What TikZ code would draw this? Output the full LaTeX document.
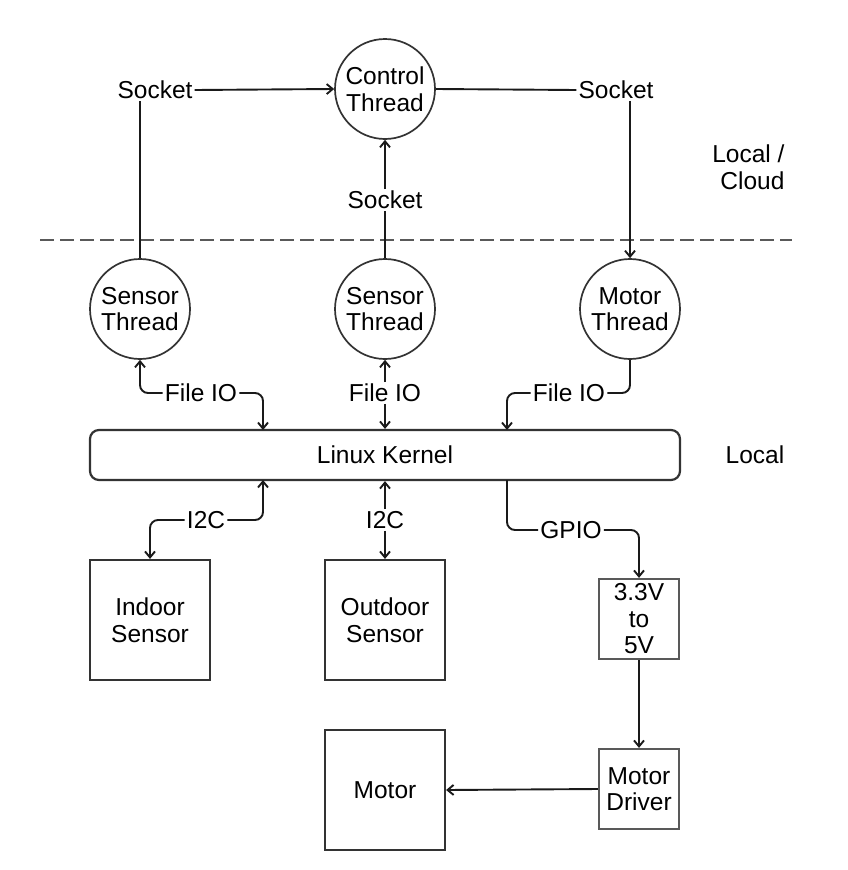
\documentclass[tikz,border=0pt]{standalone}
\usepackage{fontspec}
\setmainfont{Liberation Sans}
\usetikzlibrary{arrows.meta}
\definecolor{ink}{HTML}{1A1A1A}
\definecolor{edge}{HTML}{333333}
\definecolor{soft}{HTML}{595959}
\begin{document}
\begin{tikzpicture}[x=1pt,y=-1pt,
  every node/.style={font=\fontsize{24.5}{26.5}\selectfont, text=black},
  thread/.style={circle, draw=edge, line width=1.7pt, minimum size=100pt, inner sep=0pt, align=center},
  block/.style={rectangle, draw=edge, line width=2.2pt, minimum size=120pt, inner sep=0pt, align=center},
  smallblock/.style={rectangle, draw=soft, line width=2.2pt, minimum size=80pt, inner sep=0pt, align=center},
  lbl/.style={inner sep=2pt, text height=17.5pt, text depth=0pt},
  wire/.style={draw=ink, line width=1.9pt},
  arr/.style={wire, -{Straight Barb[length=6pt,width=10pt]}},
  twoway/.style={wire, {Straight Barb[length=6pt,width=10pt]}-{Straight Barb[length=6pt,width=10pt]}},
  elbow/.style={rounded corners=8pt}
]
\useasboundingbox (0,0) rectangle (848,870);

% threads
\node[thread] (ctrl) at (385,89) {Control\\Thread};
\node[thread] (s1) at (140,309) {Sensor\\Thread};
\node[thread] (s2) at (385,309) {Sensor\\Thread};
\node[thread] (mt) at (630,309) {Motor\\Thread};

% kernel
\node[draw=edge, line width=2.2pt, rounded corners=9pt, minimum width=590pt,
      minimum height=50pt, inner sep=0pt] (kernel) at (385,455) {Linux Kernel};

% hardware
\node[block] (indoor) at (150,620) {Indoor\\Sensor};
\node[block] (outdoor) at (385,620) {Outdoor\\Sensor};
\node[smallblock] (conv) at (639,619) {3.3V\\to\\5V};
\node[smallblock] (drv) at (639,789) {Motor\\Driver};
\node[block] (motor) at (385,790) {Motor};

% zone labels
\node[align=right, anchor=east] (zone1) at (788,167) {Local /\\Cloud};
\node[lbl] (zone2) at (755,455) {Local};

% boundary between local and cloud
\coordinate (dl) at (40,240);
\coordinate (dr) at (792,240);
\draw[draw=soft, line width=2.3pt, dash pattern=on 14pt off 6pt] (dl) -- (dr);

% link labels
\node[lbl] (sock1) at (155,90) {Socket};
\node[lbl] (sock2) at (616,90) {Socket};
\node[lbl] (sock3) at (385,200) {Socket};
\node[lbl] (fio1) at (201,393) {File IO};
\node[lbl] (fio2) at (385,393) {File IO};
\node[lbl] (fio3) at (569,393) {File IO};
\node[lbl] (i2c1) at (206,520) {I2C};
\node[lbl] (i2c2) at (385,520) {I2C};
\node[lbl] (gpio) at (571,530) {GPIO};

% kernel ports
\coordinate (kt1) at (263,430);
\coordinate (kt3) at (507,430);
\coordinate (kb1) at (263,480);
\coordinate (kb3) at (507,480);

% sockets
\draw[arr] (sock1.east) -- (ctrl.west);
\draw[wire] (ctrl.east) -- (sock2.west);
\draw[wire] (s1.north) -- (s1.north |- sock1.south);
\draw[arr] (mt.north |- sock2.south) -- (mt.north);
\draw[wire] (s2.north) -- (sock3.south);
\draw[arr] (sock3.north) -- (ctrl.south);

% file IO
\draw[arr, elbow] (fio1.west) -| (s1.south);
\draw[arr, elbow] (fio1.east) -| (kt1);
\draw[arr] (fio2.north) -- (s2.south);
\draw[arr] (fio2.south) -- (kernel.north);
\draw[wire, elbow] (mt.south) |- (fio3.east);
\draw[arr, elbow] (fio3.west) -| (kt3);

% I2C
\draw[arr, elbow] (i2c1.east) -| (kb1);
\draw[arr, elbow] (i2c1.west) -| (indoor.north);
\draw[arr] (i2c2.north) -- (kernel.south);
\draw[arr] (i2c2.south) -- (outdoor.north);

% GPIO to motor
\draw[wire, elbow] (kb3) |- (gpio.west);
\draw[arr, elbow] (gpio.east) -| (conv.north);
\draw[arr] (conv.south) -- (drv.north);
\draw[arr] (drv.west) -- (motor.east);
\end{tikzpicture}
\end{document}
